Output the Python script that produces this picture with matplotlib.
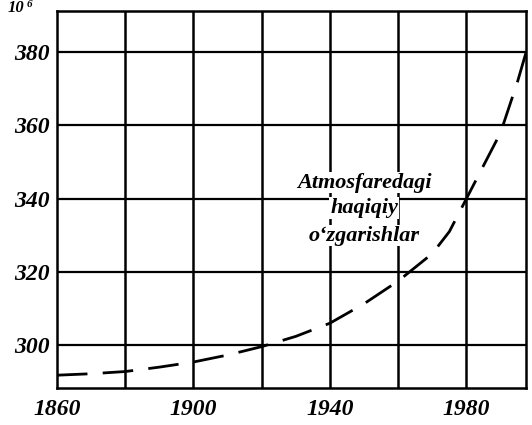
import matplotlib.pyplot as plt

years = [1860, 1870, 1880, 1890, 1900, 1910, 1920, 1930, 1940, 1950, 1960, 1970, 1975, 1980, 1990, 1995, 2000]
co2 = [291.8, 292.2, 292.8, 294.0, 295.4, 297.3, 299.6, 302.4, 306.0, 311.3, 317.5, 325.0, 331.0, 340.0, 358.0, 372.0, 388.0]
grid_years = [1880, 1900, 1920, 1940, 1960, 1980]
label_years = [1860, 1900, 1940, 1980]
y_ticks = [300, 320, 340, 360, 380]
note_lines = ["Atmosfaredagi", "haqiqiy", "o\u2018zgarishlar"]

serif = ['Liberation Serif', 'DejaVu Serif']

fig = plt.figure(figsize=(5.32, 4.25), dpi=100)
ax = fig.add_axes([0.107, 0.087, 0.882, 0.887])

for yr in grid_years:
    ax.axvline(yr, color='black', lw=1.8, zorder=1)
for v in y_ticks:
    ax.axhline(v, color='black', lw=1.6, zorder=1)

ax.plot(years, co2, color='black', lw=2.0, dashes=(11, 5.5), zorder=3)

ax.set_xlim(1860, 1997.5)
ax.set_ylim(288.3, 391.2)
ax.set_xticks(label_years)
ax.set_xticklabels([str(y) for y in label_years])
ax.set_yticks(y_ticks)
ax.set_yticklabels([str(v) for v in y_ticks])
ax.tick_params(length=0, pad=5)
for lab in ax.get_xticklabels() + ax.get_yticklabels():
    lab.set_family(serif)
    lab.set_fontsize(17)
    lab.set_fontweight('bold')
    lab.set_fontstyle('italic')
ax.tick_params(axis='x', pad=8)

for s in ax.spines.values():
    s.set_linewidth(1.8)
    s.set_color('black')

for line, yv in zip(note_lines, [344.4, 337.4, 329.9]):
    ax.text(1950, yv, line, ha='center', va='center', family=serif,
            fontsize=16, fontweight='bold', fontstyle='italic', zorder=4,
            bbox=dict(facecolor='white', edgecolor='none', pad=0.4))

# unit mark at the top left
fig.text(8 / 532, 1.0, "10", family=serif, fontsize=12,
         fontweight='bold', fontstyle='italic', va='top')
fig.text(27 / 532, 1.0, "6", family=serif, fontsize=8,
         fontweight='bold', fontstyle='italic', va='top')

fig.savefig('out.png', dpi=100)
